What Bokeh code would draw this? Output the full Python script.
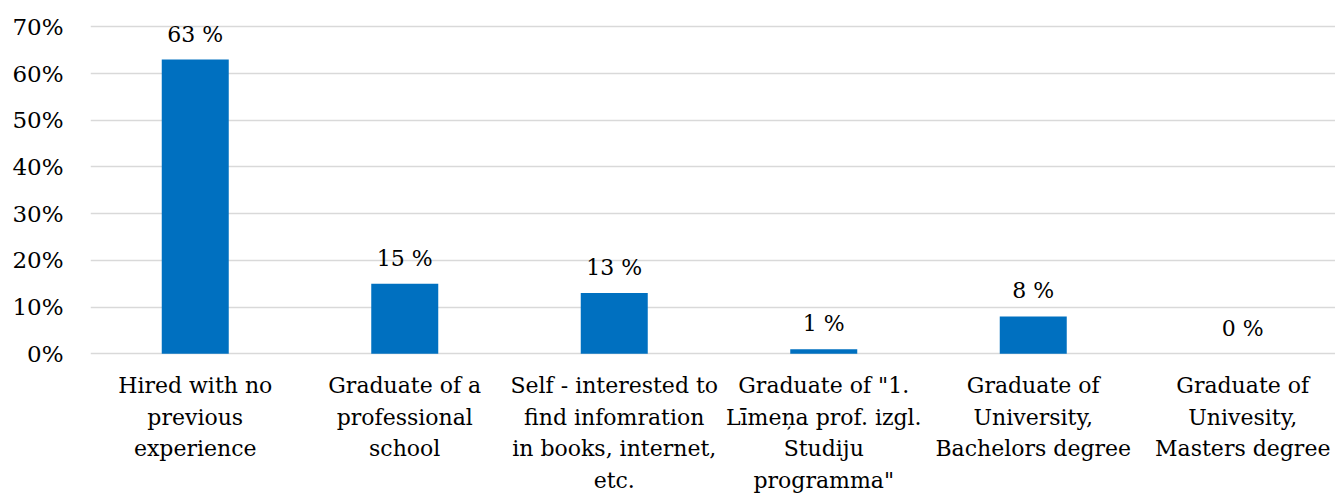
from bokeh.plotting import figure
from bokeh.models import ColumnDataSource, Range1d, FixedTicker, NumeralTickFormatter
from bokeh.core.properties import value
from bokeh.embed import file_html
from bokeh.resources import INLINE

categories = [
    "Hired with no\nprevious\nexperience",
    "Graduate of a\nprofessional\nschool",
    "Self - interested to\nfind infomration\nin books, internet,\netc.",
    "Graduate of \"1.\nLīmeņa prof. izgl.\nStudiju\nprogramma\"",
    "Graduate of\nUniversity,\nBachelors degree",
    "Graduate of\nUnivesity,\nMasters degree",
]
values_pct = [63, 15, 13, 1, 8, 0]
y_ticks = [0, 0.1, 0.2, 0.3, 0.4, 0.5, 0.6, 0.7]

FONT = "DejaVu Serif"
FS = "22px"

xs = [i + 0.5 for i in range(len(categories))]
src = ColumnDataSource(dict(
    x=xs,
    top=[v / 100 for v in values_pct],
    lab=[f"{v} %" for v in values_pct],
    cat=categories,
    zero=[0] * len(categories),
))

p = figure(width=1335, height=493, output_backend="svg", toolbar_location=None,
           x_range=Range1d(0, 1245 / 209.5), y_range=Range1d(-0.2991, 0.7565),
           min_border_left=90, min_border_right=0, min_border_top=0, min_border_bottom=0)
p.outline_line_color = None
p.background_fill_color = "white"
p.border_fill_color = "white"

p.xaxis.visible = False
p.xgrid.visible = False

p.yaxis.ticker = FixedTicker(ticks=y_ticks)
p.yaxis.formatter = NumeralTickFormatter(format="0%")
p.yaxis.axis_line_color = None
p.yaxis.major_tick_line_color = None
p.yaxis.minor_tick_line_color = None
p.yaxis.major_label_standoff = 21
p.yaxis.major_label_text_font = FONT
p.yaxis.major_label_text_font_size = "23px"
p.yaxis.major_label_text_color = "#000000"
p.ygrid.ticker = FixedTicker(ticks=y_ticks)
p.ygrid.grid_line_color = "#d9d9d9"
p.ygrid.grid_line_width = 1.5

p.vbar(x="x", top="top", bottom=0, width=67 / 209.5, source=src,
       fill_color="#0070c0", line_color=None)

p.text(x="x", y="top", text="lab", source=src, text_align="center",
       text_baseline="bottom", y_offset=-13, text_font=value(FONT),
       text_font_size=FS, text_color="#000000")

p.text(x="x", y="zero", text="cat", source=src, text_align="center",
       text_baseline="top", y_offset=19, text_font=value(FONT),
       text_font_size=FS, text_color="#000000", text_line_height=1.27)

open("out.html", "w").write(file_html(p, INLINE))
